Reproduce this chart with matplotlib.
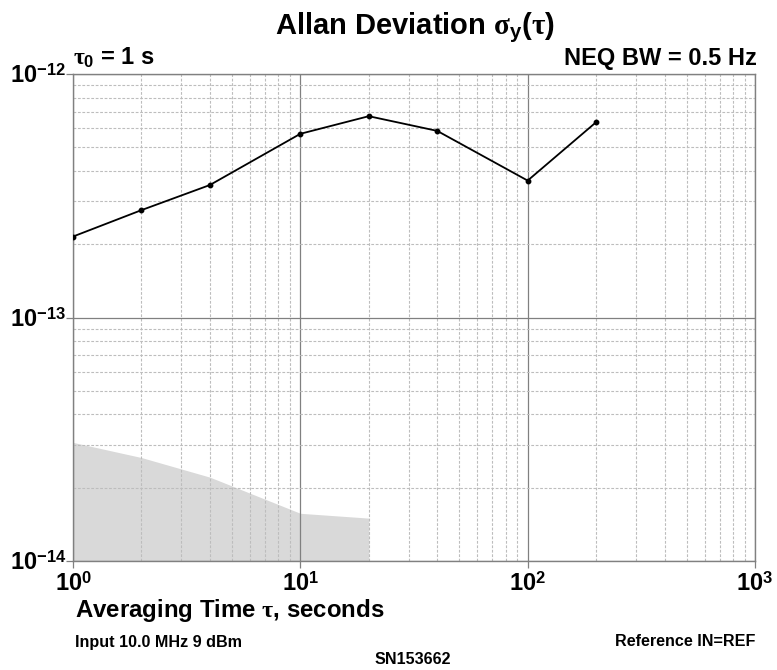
import matplotlib
matplotlib.use('Agg')
import matplotlib.pyplot as plt
from matplotlib.ticker import LogLocator, NullFormatter

# ---- data ----
tau = [1, 2, 4, 10, 20, 40, 100, 200]
adev = [2.15e-13, 2.76e-13, 3.50e-13, 5.68e-13, 6.71e-13, 5.84e-13, 3.65e-13, 6.34e-13]
floor_tau = [1, 2, 4, 10, 20]
floor_adev = [3.07e-14, 2.66e-14, 2.21e-14, 1.57e-14, 1.50e-14]
xticks = [1, 10, 100, 1000]
xticklabels = [r'$10^{0}$', r'$10^{1}$', r'$10^{2}$', r'$10^{3}$']
yticks = [1e-14, 1e-13, 1e-12]
yticklabels = [r'$10^{-14}$', r'$10^{-13}$', r'$10^{-12}$']

plt.rcParams['font.family'] = ['Liberation Sans', 'DejaVu Sans']
plt.rcParams['font.weight'] = 'bold'
plt.rcParams['mathtext.fontset'] = 'custom'
plt.rcParams['mathtext.rm'] = 'Liberation Sans:bold'
plt.rcParams['mathtext.bf'] = 'Liberation Sans:bold'
plt.rcParams['mathtext.sf'] = 'Liberation Sans:bold'
plt.rcParams['mathtext.it'] = 'Liberation Serif'

fig = plt.figure(figsize=(7.77, 6.70), dpi=100)
ax = fig.add_axes([73/777, 1-561/670, (755-73)/777, (561-74)/670])

ax.fill_between(floor_tau, 1e-14, floor_adev, color='#d9d9d9', lw=0, zorder=1)
ax.plot(tau, adev, color='black', lw=1.3, marker='o', ms=3.2, zorder=4)

ax.set_xscale('log')
ax.set_yscale('log')
ax.set_xlim(1, 1000)
ax.set_ylim(1e-14, 1e-12)

ax.xaxis.set_minor_locator(LogLocator(base=10, subs=range(2, 10)))
ax.yaxis.set_minor_locator(LogLocator(base=10, subs=range(2, 10)))
ax.xaxis.set_minor_formatter(NullFormatter())
ax.yaxis.set_minor_formatter(NullFormatter())
ax.set_xticks(xticks)
ax.set_xticklabels(xticklabels)
ax.set_yticks(yticks)
ax.set_yticklabels(yticklabels)

ax.grid(which='major', color='#808080', lw=0.9, ls='-', zorder=2)
ax.grid(which='minor', color='#bdbdbd', lw=0.8, ls=(0, (2.5, 1.5)), zorder=2)
ax.set_axisbelow(False)
for sp in ax.spines.values():
    sp.set_color('#808080')
    sp.set_linewidth(1.0)
    sp.set_zorder(3)

ax.tick_params(which='major', length=5, color='#808080', width=0.9)
ax.tick_params(axis='x', labelsize=17, pad=3)
ax.tick_params(axis='y', labelsize=17, pad=0)
ax.tick_params(which='minor', length=0)
for lab in ax.get_yticklabels():
    lab.set_verticalalignment('center_baseline')

fig.text(415/777, 1-28/670, r'Allan Deviation $\sigma_{\mathrm{y}}(\tau)$',
         ha='center', va='center', fontsize=21, fontweight='bold')
fig.text(73/777, 1-58/670, r'$\tau_{0}$ = 1 s', ha='left', va='center',
         fontsize=17, fontweight='bold')
fig.text(757/777, 1-58/670, 'NEQ BW = 0.5 Hz', ha='right', va='center',
         fontsize=17, fontweight='bold')
fig.text(75/777, 1-610/670, r'Averaging Time $\tau$, seconds', ha='left', va='center',
         fontsize=17.3, fontweight='bold')
fig.text(75/777, 1-642/670, 'Input 10.0 MHz 9 dBm', ha='left', va='center',
         fontsize=11.6, fontweight='bold')
fig.text(755/777, 1-642/670, 'Reference IN=REF', ha='right', va='center',
         fontsize=11.6, fontweight='bold')
fig.text(413/777, 1-660/670, 'SN153662', ha='center', va='center',
         fontsize=11.6, fontweight='bold')

fig.savefig('out.png', dpi=100)
